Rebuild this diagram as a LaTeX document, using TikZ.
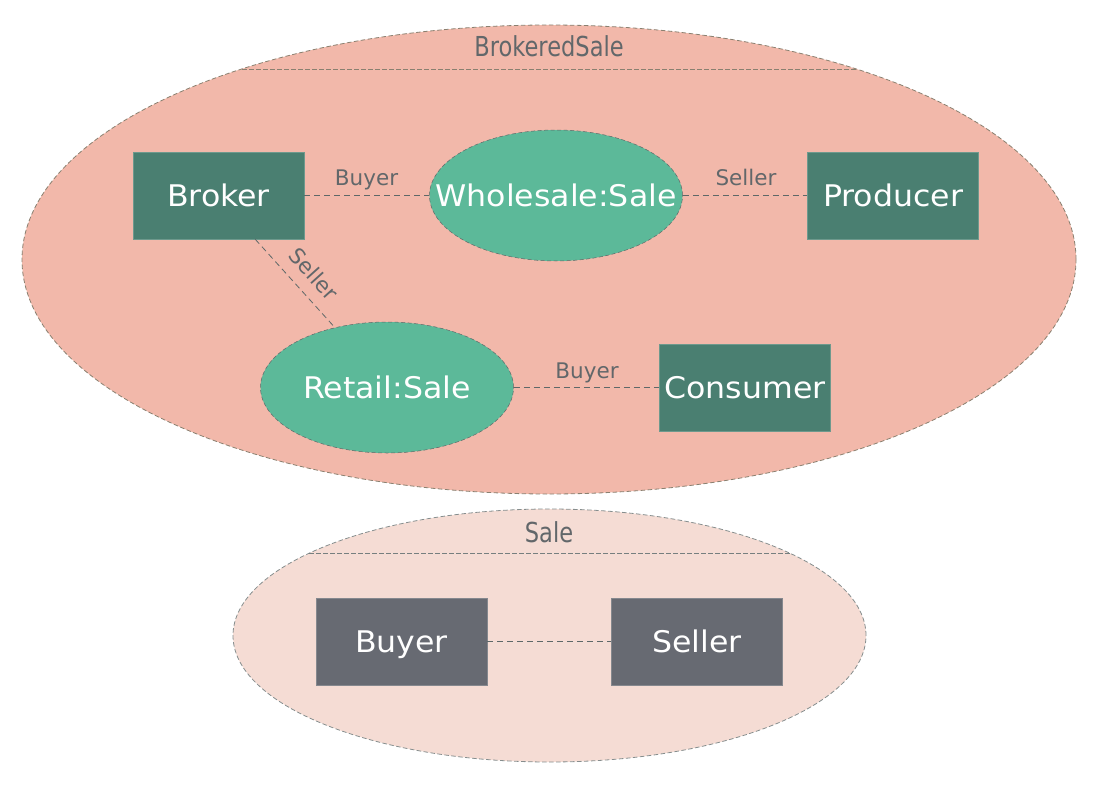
\documentclass[tikz,border=0pt]{standalone}
\usepackage{fontspec}
\setmainfont{DejaVu Sans}
\newfontfamily\boxfont[FakeStretch=1.06]{DejaVu Sans}
\newfontfamily\titlefont[FakeStretch=0.82]{DejaVu Sans}
\usetikzlibrary{shapes.geometric}
\definecolor{bigfill}{HTML}{F2B8AA}
\definecolor{smallfill}{HTML}{F5DCD4}
\definecolor{rimcol}{HTML}{8A8070}
\definecolor{boxgreen}{HTML}{4A7F71}
\definecolor{ellgreen}{HTML}{5CB999}
\definecolor{boxgrey}{HTML}{676A72}
\definecolor{txtgrey}{HTML}{62676A}
\definecolor{linkcol}{HTML}{5E6868}
\tikzset{
  x=1pt, y=-1pt,
  rimline/.style={draw=rimcol, dash pattern=on 4.5pt off 2.5pt, line width=0.8pt},
  objbox/.style={rectangle, fill=boxgreen, draw=boxgreen!80!white, line width=0.5pt, minimum width=171pt, minimum height=87pt, inner sep=0pt, text=white, font=\boxfont\fontsize{29.8}{32}\selectfont, text height=21.8pt, text depth=0pt},
  greybox/.style={objbox, fill=boxgrey, draw=boxgrey!80!white},
  salell/.style={ellipse, fill=ellgreen, draw=linkcol, dash pattern=on 4pt off 2.5pt, line width=0.5pt, minimum width=253pt, minimum height=131pt, inner sep=0pt, text=white, font=\boxfont\fontsize{29.8}{32}\selectfont, text height=21.8pt, text depth=0pt},
  link/.style={draw=linkcol, dash pattern=on 6pt off 4pt, line width=0.8pt},
  role/.style={text=txtgrey, font=\fontsize{21.5}{24}\selectfont, inner sep=0pt, text height=15.7pt, text depth=0pt},
  title/.style={text=txtgrey, font=\titlefont\fontsize{27.5}{30}\selectfont, inner sep=0pt, text height=20pt, text depth=0pt}
}
\begin{document}
\begin{tikzpicture}
\useasboundingbox (0,0) rectangle (1099,786);
% big ellipse
\node[ellipse, fill=bigfill, rimline, minimum width=1054pt, minimum height=469pt, inner sep=0pt] (big) at (549,259.5) {};
\coordinate (bigL) at (242,69);
\coordinate (bigR) at (856,69);
\draw[rimline] (bigL) -- (bigR);
\node[title] (bigt) at (549,47) {BrokeredSale};
% small ellipse
\node[ellipse, fill=smallfill, rimline, draw=linkcol!75!white, minimum width=633pt, minimum height=253pt, inner sep=0pt] (small) at (549.5,635.5) {};
\coordinate (smL) at (309,553);
\coordinate (smR) at (790,553);
\draw[rimline, draw=linkcol!85!white] (smL) -- (smR);
\node[title] (smt) at (549,532.5) {Sale};
% nodes
\node[objbox] (broker) at (218.5,195.5) {Broker};
\node[salell] (whole) at (556,195.5) {\makebox[0pt]{Wholesale:Sale}};
\node[objbox] (producer) at (893,195.5) {Producer};
\node[salell] (retail) at (387,387.5) {\makebox[0pt]{Retail:Sale}};
\node[objbox] (consumer) at (745,387.5) {Consumer};
\node[greybox] (buyer) at (401.5,641.5) {Buyer};
\node[greybox] (seller) at (697,641.5) {Seller};
% links
\draw[link] (broker) -- (whole);
\draw[link] (whole) -- (producer);
\draw[link] (broker.-50) -- (retail.131);
\draw[link] (retail) -- (consumer);
\draw[link] (buyer) -- (seller);
% role labels
\node[role] (r1) at (366.5,178) {Buyer};
\node[role] (r2) at (746,178) {Seller};
\node[role, rotate=-48] (r3) at (314,274) {Seller};
\node[role] (r4) at (587,371) {Buyer};
\end{tikzpicture}
\end{document}
